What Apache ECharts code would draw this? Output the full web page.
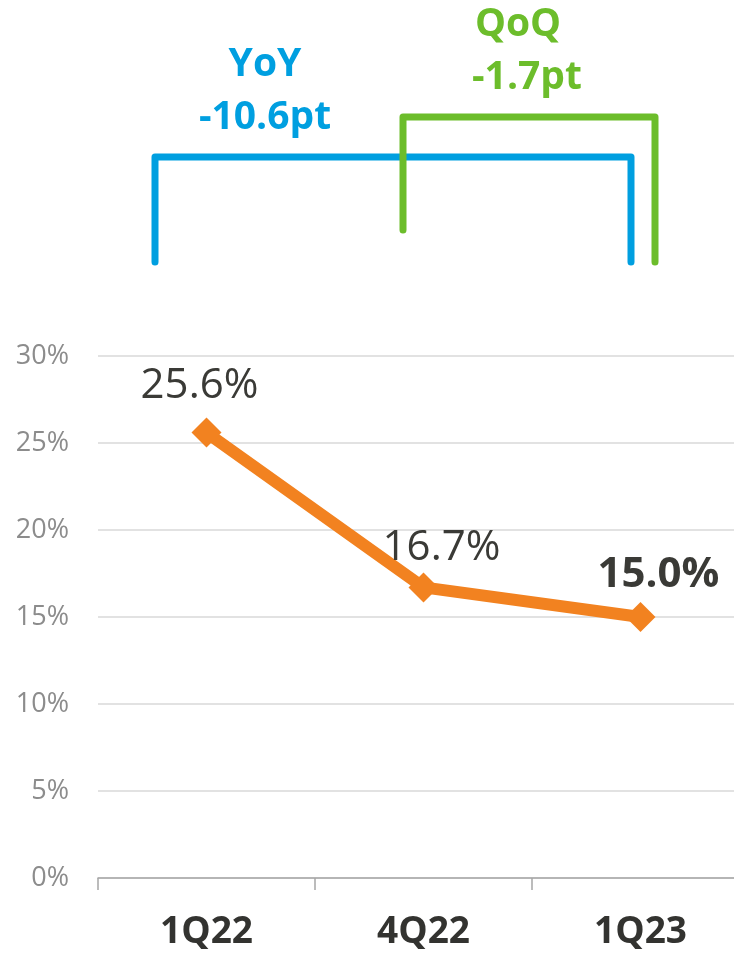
<!DOCTYPE html>
<html>
<head>
<meta charset="utf-8">
<script src="https://cdn.jsdelivr.net/npm/echarts@6/dist/echarts.min.js"></script>
<style>
  html, body { margin: 0; padding: 0; background: #fff; overflow: hidden; }
  #main { width: 752px; height: 956px; }
</style>
</head>
<body>
<div id="main"></div>
<script>
var quarters = ['1Q22', '4Q22', '1Q23'];
var ratio = [25.6, 16.7, 15.0];
var yTicks = [0, 30, 5];   // min, max, step
var yoyText = ['YoY', '-10.6pt'];
var qoqText = ['QoQ', '-1.7pt'];

var myChart = echarts.init(document.getElementById('main'));

var fontFam = '"Open Sans", "Noto Sans", sans-serif';
var blue = '#009fe0';
var green = '#6cbd2b';

// label nudges, per point
var labelOffsets = [[-7, -6], [18, 2], [18, -1]];

var seriesData = ratio.map(function (v, i) {
    var last = i === ratio.length - 1;
    return {
        value: v,
        label: {
            fontWeight: last ? 'bold' : 'normal',
            offset: labelOffsets[i]
        }
    };
});

var option = {
    backgroundColor: '#fff',
    animation: false,
    grid: {
        left: 98,
        top: 356,
        width: 651,
        bottom: 78
    },
    xAxis: {
        type: 'category',
        data: quarters,
        boundaryGap: true,
        axisLine: { lineStyle: { color: '#a6a6a6', width: 1.5 } },
        axisTick: { show: true, length: 12, lineStyle: { color: '#a6a6a6', width: 1.5 } },
        axisLabel: {
            margin: 36,
            color: '#333330',
            fontSize: 37,
            fontWeight: 'bold',
            fontFamily: fontFam
        }
    },
    yAxis: {
        type: 'value',
        min: yTicks[0],
        max: yTicks[1],
        interval: yTicks[2],
        axisLine: { show: false },
        axisTick: { show: false },
        splitLine: { lineStyle: { color: '#d9d9d9', width: 1.5 } },
        axisLabel: {
            formatter: '{value}%',
            margin: 29,
            color: '#8c8c8c',
            fontSize: 27,
            fontFamily: fontFam
        }
    },
    series: [{
        type: 'line',
        data: seriesData,
        symbol: 'diamond',
        symbolSize: 30,
        lineStyle: { color: '#f28220', width: 12 },
        itemStyle: { color: '#f28220' },
        label: {
            show: true,
            position: 'top',
            distance: 5,
            formatter: function (p) { return p.value.toFixed(1) + '%'; },
            color: '#3a3a36',
            fontSize: 42,
            fontFamily: fontFam
        }
    }],
    graphic: [
        {
            type: 'polyline',
            shape: { points: [[155, 262], [155, 157], [631, 157], [631, 262]] },
            style: { stroke: blue, lineWidth: 7, fill: null, lineCap: 'round', lineJoin: 'round' },
            z: 10
        },
        {
            type: 'polyline',
            shape: { points: [[403, 230], [403, 117], [655, 117], [655, 262]] },
            style: { stroke: green, lineWidth: 7, fill: null, lineCap: 'round', lineJoin: 'round' },
            z: 11
        },
        {
            type: 'text',
            x: 265, y: 65,
            style: { text: yoyText[0], fill: blue, font: 'bold 39px ' + fontFam, align: 'center', verticalAlign: 'middle' }
        },
        {
            type: 'text',
            x: 265, y: 118,
            style: { text: yoyText[1], fill: blue, font: 'bold 39px ' + fontFam, align: 'center', verticalAlign: 'middle' }
        },
        {
            type: 'text',
            x: 518, y: 25,
            style: { text: qoqText[0], fill: green, font: 'bold 39px ' + fontFam, align: 'center', verticalAlign: 'middle' }
        },
        {
            type: 'text',
            x: 527, y: 78,
            style: { text: qoqText[1], fill: green, font: 'bold 39px ' + fontFam, align: 'center', verticalAlign: 'middle' }
        }
    ]
};

myChart.setOption(option);
</script>
</body>
</html>
